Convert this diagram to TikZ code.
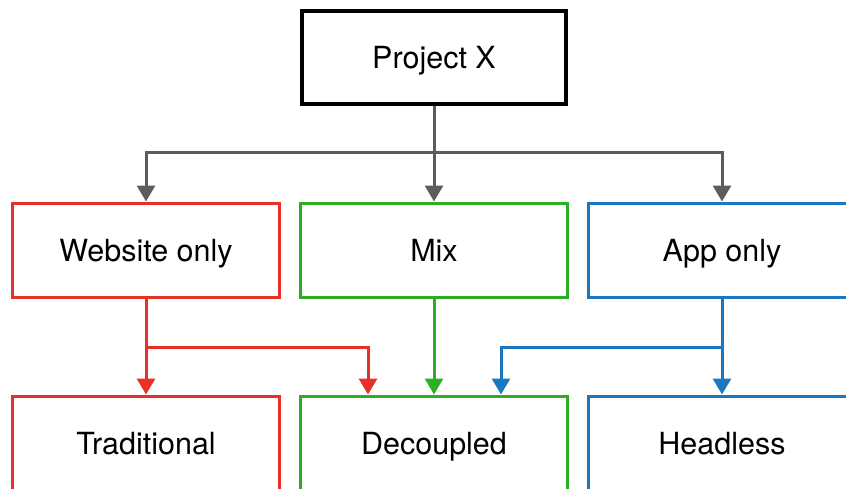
\documentclass[tikz,border=0pt]{standalone}
\usepackage{fontspec}
\setmainfont{TeX Gyre Heros}
\usetikzlibrary{arrows.meta}

\definecolor{webred}{RGB}{232,48,40}
\definecolor{mixgreen}{RGB}{44,176,34}
\definecolor{appblue}{RGB}{26,120,192}
\definecolor{rootgray}{RGB}{92,92,92}

\tikzset{
	box/.style={draw, line width=3pt, minimum width=267pt, minimum height=94pt, text height=22pt, text depth=0pt, font=\fontsize{30.5}{34}\selectfont},
	link/.style={line width=3pt, -{Triangle[width=18pt,length=16pt]}}
}

\begin{document}
\begin{tikzpicture}[x=1pt, y=-1pt]
		\clip ( 0, 0 ) rectangle ( 846, 488 );

		% корень
		\node [box, line width=4pt, minimum width=264pt, minimum height=93pt] (proj) at ( 434, 57 ) {Project X};

		% варианты
		\node [box, webred, text=black] (web) at ( 146, 250 ) {Website only};
		\node [box, mixgreen, text=black] (mix) at ( 434, 250 ) {Mix};
		\node [box, appblue, text=black] (app) at ( 722, 250 ) {App only};

		% архитектуры
		\node [box, webred, text=black] (trad) at ( 146, 443 ) {Traditional};
		\node [box, mixgreen, text=black] (dec) at ( 434, 443 ) {Decoupled};
		\node [box, appblue, text=black] (head) at ( 722, 443 ) {Headless};

		% развилки
		\coordinate (bus) at ( 434, 152 );
		\coordinate (webfork) at ( 146, 347 );
		\coordinate (appfork) at ( 722, 347 );

		% от корня
		\draw [link, rootgray] (proj.south) -- (bus) -| (web.north);
		\draw [link, rootgray] (bus) -- (mix.north);
		\draw [link, rootgray] (bus) -| (app.north);

		% website only
		\draw [link, webred] (web.south) -- (trad.north);
		\draw [link, webred] (webfork) -| ([xshift=-66pt] dec.north);

		% mix
		\draw [link, mixgreen] (mix.south) -- (dec.north);

		% app only
		\draw [link, appblue] (app.south) -- (head.north);
		\draw [link, appblue] (appfork) -| ([xshift=67pt] dec.north);
	\end{tikzpicture}
\end{document}
